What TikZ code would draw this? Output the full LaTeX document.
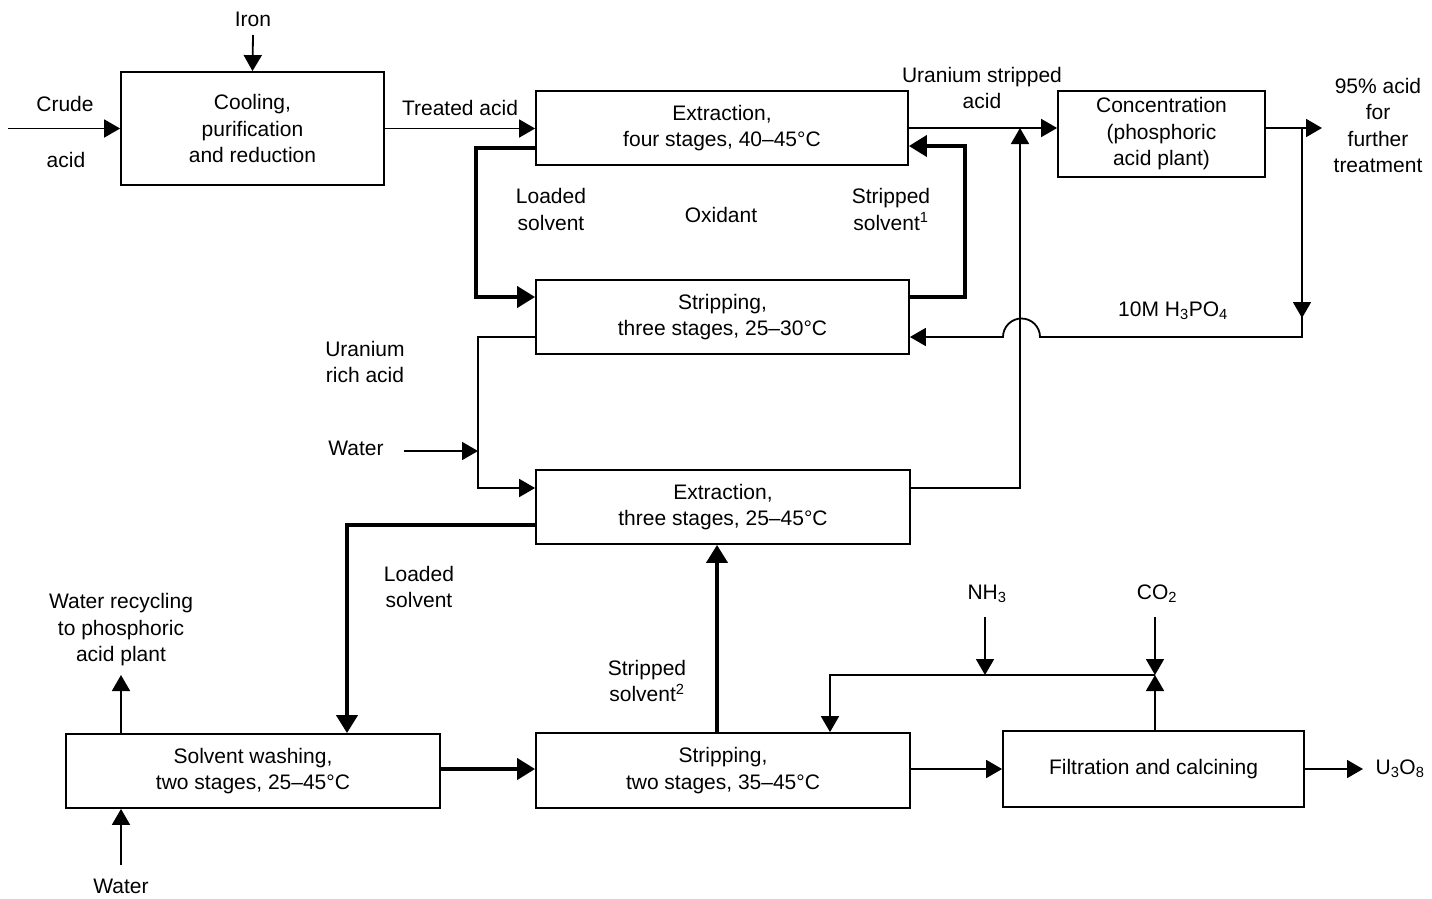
\documentclass[tikz,border=0pt]{standalone}
\usepackage{fontspec}
\setmainfont{Liberation Sans}
\usetikzlibrary{arrows.meta,calc}
\newcommand\myfs{\fontsize{21}{26.5}\selectfont}
\tikzset{
 box/.style={draw, line width=1.8pt, align=center, inner sep=0pt, font=\myfs},
 lbl/.style={align=center, inner sep=0pt, font=\myfs},
 ln/.style={line width=1.8pt},
 thk/.style={line width=4pt},
 arr/.style={ln, -{Triangle[length=16pt,width=18pt]}},
 tarr/.style={thk, -{Triangle[length=18pt,width=21pt]}},
}
\begin{document}
\begin{tikzpicture}[x=1pt,y=-1pt]
\useasboundingbox (0,0) rectangle (1432,898);
% boxes
\node[box, minimum width=263pt, minimum height=113pt] (cool) at (252.5,128.5) {Cooling,\\purification\\and reduction};
\node[box, minimum width=372pt, minimum height=74pt] (ext1) at (722,128) {Extraction,\\four stages, 40--45°C};
\node[box, minimum width=207pt, minimum height=86pt] (conc) at (1161.5,134) {Concentration\\(phosphoric\\acid plant)};
\node[box, minimum width=373pt, minimum height=74pt] (strip1) at (722.5,317) {Stripping,\\three stages, 25--30°C};
\node[box, minimum width=374pt, minimum height=74pt] (ext2) at (723,507) {Extraction,\\three stages, 25--45°C};
\node[box, minimum width=374pt, minimum height=74pt] (wash) at (253,771) {Solvent washing,\\two stages, 25--45°C};
\node[box, minimum width=374pt, minimum height=75pt] (strip2) at (723,770.5) {Stripping,\\two stages, 35--45°C};
\node[box, minimum width=301pt, minimum height=76pt] (filt) at (1153.5,769) {Filtration and calcining};
% labels
\node[lbl] (crude) at (65,104) {Crude};
\node[lbl] (crudeacid) at (66,160) {acid};
\node[lbl] (iron) at (253,19) {Iron};
\node[lbl] (treated) at (460,108) {Treated acid};
\node[lbl] (ustr) at (982,88) {Uranium stripped\\acid};
\node[lbl] (out95) at (1378,125.5) {95\% acid\\for\\further\\treatment};
\node[lbl] (lsolv1) at (551,209.5) {Loaded\\solvent};
\node[lbl] (oxid) at (721,215) {Oxidant};
\node[lbl] (ssolv1) at (891,209.5) {Stripped\\solvent\textsuperscript{1}};
\node[lbl] (h3po4) at (1173,311) {10M H\textsubscript{3}PO\textsubscript{4}};
\node[lbl] (urich) at (365,362) {Uranium\\rich acid};
\node[lbl] (water1) at (356,448) {Water};
\node[lbl] (lsolv2) at (419,587) {Loaded\\solvent};
\node[lbl] (ssolv2) at (647,681) {Stripped\\solvent\textsuperscript{2}};
\node[lbl] (wrec) at (121,630) {Water recycling\\to phosphoric\\acid plant};
\node[lbl] (water2) at (121,886) {Water};
\node[lbl] (nh3) at (987,594) {NH\textsubscript{3}};
\node[lbl] (co2) at (1157,594) {CO\textsubscript{2}};
\node[lbl] (u3o8) at (1400,769) {U\textsubscript{3}O\textsubscript{8}};
% coordinates
\coordinate (crudein) at (8,128.5);
\coordinate (ironin) at (253,35);
\coordinate (acidout) at (1322,128);
\coordinate (jc) at (1302,128);
\coordinate (jd) at (1302,318);
\coordinate (waterin) at (404,451);
\coordinate (wrecout) at (121,675);
\coordinate (waterin2) at (121,865);
\coordinate (nh3in) at (985,617);
\coordinate (co2in) at (1155,617);
\coordinate (jco2) at (1155,675);
\coordinate (u3o8out) at (1363,769);
% connectors
\draw[arr] (crudein) -- (cool.west);
\draw[arr] (ironin) -- (cool.north);
\draw[arr] (cool.east) -- (cool.east -| ext1.west);
\draw[arr] (ext1.east) -- (ext1.east -| conc.west);
\draw[arr] (ext1.east -| conc.east) -- (acidout);
\draw[arr] (jc) -- (jd);
\draw[arr] (1302,314) -- (1302,337) -- (1040,337) arc[start angle=0, end angle=-180, radius=18.5] -- (strip1.east |- 0,337);
\draw[arr] (ext2.east |- 0,488) -- (1020,488) -- (1020,128);
\draw[tarr] (ext1.west |- 0,148) -- (476,148) -- (476,297) -- (strip1.west |- 0,297);
\draw[tarr] (strip1.east |- 0,297) -- (965,297) -- (965,146) -- (ext1.east |- 0,146);
\draw[arr] (strip1.west |- 0,337) -- (478,337) -- (478,488) -- (ext2.west |- 0,488);
\draw[arr] (waterin) -- (478,451);
\draw[tarr] (ext2.west |- 0,525) -- (347,525) -- (wash.north -| 347,0);
\draw[tarr] (wash.east |- 0,769) -- (strip2.west |- 0,769);
\draw[tarr] (strip2.north -| 717,0) -- (ext2.south -| 717,0);
\draw[arr] (wash.north -| 121,0) -- (wrecout);
\draw[arr] (waterin2) -- (wash.south -| 121,0);
\draw[arr] (strip2.east |- 0,769) -- (filt.west |- 0,769);
\draw[arr] (filt.north -| 1155,0) -- (jco2);
\draw[arr] (co2in) -- (jco2);
\draw[arr] (jco2) -- (830,675) -- (strip2.north -| 830,0);
\draw[arr] (nh3in) -- (985,675);
\draw[arr] (filt.east) -- (u3o8out);
\end{tikzpicture}
\end{document}
